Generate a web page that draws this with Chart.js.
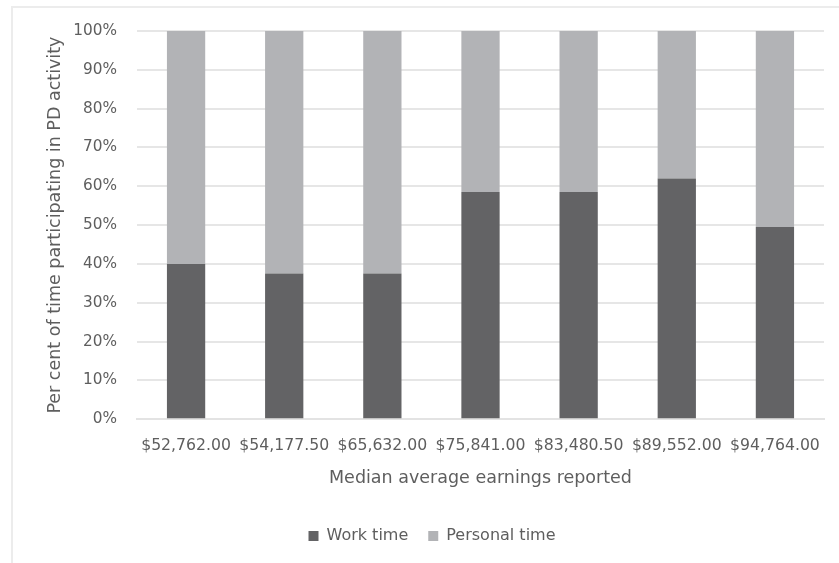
<!DOCTYPE html>
<html>
<head>
<meta charset="utf-8">
<script src="https://cdn.jsdelivr.net/npm/chart.js@4/dist/chart.umd.min.js"></script>
<style>
  html, body { margin: 0; padding: 0; background: #fff; }
  #wrap { position: relative; width: 839px; height: 563px; overflow: hidden; }
  #frame { position: absolute; left: 11px; top: 6px; width: 900px; height: 700px; border: 2px solid #ececec; box-sizing: border-box; }
  canvas { position: absolute; left: 0; top: 0; }
</style>
</head>
<body>
<div id="wrap">
  <div id="frame"></div>
  <canvas id="c" width="839" height="563"></canvas>
</div>
<script>
const categories = ["$52,762.00", "$54,177.50", "$65,632.00", "$75,841.00", "$83,480.50", "$89,552.00", "$94,764.00"];
const workTime = [40, 37.5, 37.5, 58.5, 58.5, 62, 49.5];
const personalTime = [60, 62.5, 62.5, 41.5, 41.5, 38, 50.5];
const seriesNames = ["Work time", "Personal time"];

const FONT = "'DejaVu Sans', 'Liberation Sans', sans-serif";
const TXT = '#5e5e5e';

new Chart(document.getElementById('c'), {
  type: 'bar',
  data: {
    labels: categories,
    datasets: [
      { label: seriesNames[0], data: workTime, backgroundColor: '#636365', borderWidth: 0, categoryPercentage: 1, barPercentage: 0.39 },
      { label: seriesNames[1], data: personalTime, backgroundColor: '#b2b3b6', borderWidth: 0, categoryPercentage: 1, barPercentage: 0.39 }
    ]
  },
  options: {
    responsive: false,
    animation: false,
    layout: { padding: { left: 40, right: 15, top: 31, bottom: 9 } },
    plugins: {
      tooltip: { enabled: false },
      legend: {
        position: 'bottom',
        labels: { font: { family: FONT, size: 16 }, color: TXT, boxWidth: 10, boxHeight: 10, padding: 20 }
      }
    },
    scales: {
      x: {
        stacked: true,
        grid: { display: false, drawTicks: false },
        border: { display: true, color: '#e3e3e3', width: 2 },
        ticks: { font: { family: FONT, size: 15.7 }, color: TXT, padding: 17, maxRotation: 0, autoSkip: false },
        title: { display: true, text: 'Median average earnings reported', font: { family: FONT, size: 17.5 }, color: TXT, padding: { top: -4, bottom: 19 } }
      },
      y: {
        stacked: true,
        min: 0, max: 100,
        afterFit: s => { s.width = 97; },
        grid: { color: '#e6e6e6', lineWidth: 2, drawTicks: false },
        border: { display: false },
        ticks: { stepSize: 10, font: { family: FONT, size: 15.3 }, color: TXT, padding: 20, callback: v => v + '%' },
        title: { display: true, text: 'Per cent of time participating in PD activity', font: { family: FONT, size: 17.5 }, color: TXT, padding: { top: 4.5, bottom: 0 } }
      }
    }
  }
});
</script>
</body>
</html>
